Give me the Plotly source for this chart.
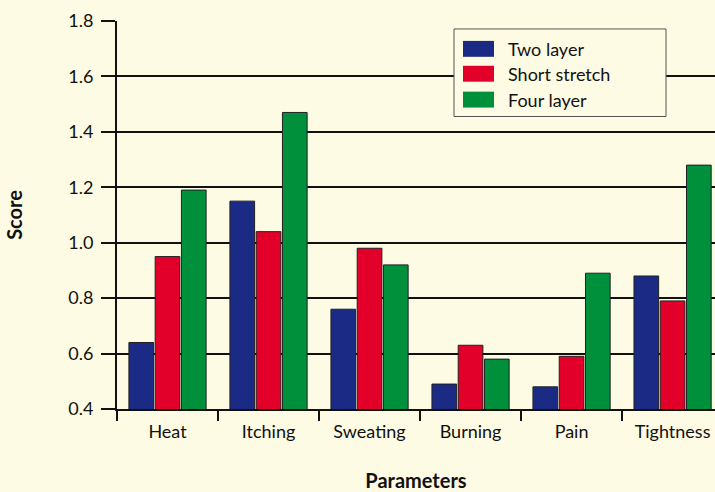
import plotly.graph_objects as go

categories = ["Heat", "Itching", "Sweating", "Burning", "Pain", "Tightness"]
two_layer = [0.64, 1.15, 0.76, 0.49, 0.48, 0.88]
short_stretch = [0.95, 1.04, 0.98, 0.63, 0.59, 0.79]
four_layer = [1.19, 1.47, 0.92, 0.58, 0.89, 1.28]
y_ticks = [0.4, 0.6, 0.8, 1.0, 1.2, 1.4, 1.6, 1.8]

series = [("Two layer", two_layer, "#1b2a84"),
          ("Short stretch", short_stretch, "#e2002a"),
          ("Four layer", four_layer, "#00903c")]

BG = "#fdfbe3"
FONT = "Lato, 'Open Sans', sans-serif"

# plot area in pixels (for placing the hand-drawn legend)
L, R, T, B = 117, 715, 21, 411
def px(x):
    return (x - L) / (R - L)
def py(y):
    return (B - y) / (B - T)

fig = go.Figure()
for name, vals, col in series:
    fig.add_trace(go.Bar(
        x=categories, y=vals, name=name, marker_color=col,
        marker_line=dict(color="#222222", width=1),
    ))

shapes = [dict(type="rect", xref="paper", yref="paper",
               x0=px(454), x1=px(666), y0=py(117), y1=py(29),
               fillcolor=BG, line=dict(color="#555555", width=1), layer="above")]
annotations = []
row_tops = [41, 66, 92]
for (name, vals, col), top in zip(series, row_tops):
    shapes.append(dict(type="rect", xref="paper", yref="paper",
                       x0=px(463), x1=px(494), y0=py(top + 16), y1=py(top),
                       fillcolor=col, line=dict(width=0), layer="above"))
    annotations.append(dict(xref="paper", yref="paper", x=px(506), y=py(top + 8),
                            text=name, showarrow=False, xanchor="left", yanchor="middle",
                            font=dict(size=18, color="#111111")))

fig.update_layout(
    width=715, height=492,
    margin=dict(l=L, r=0, t=T, b=492 - B),
    paper_bgcolor=BG, plot_bgcolor=BG,
    barmode="group", bargap=0.22, bargroupgap=0.06,
    font=dict(family=FONT, size=18, color="#111111"),
    showlegend=False,
    shapes=shapes, annotations=annotations,
    xaxis=dict(
        range=[-0.5, 5.42], tickson="boundaries", ticks="outside",
        ticklen=10, tickwidth=2, tickcolor="#111111",
        ticklabelstandoff=5,
        showline=True, linecolor="#111111", linewidth=2,
        showgrid=False,
        title=dict(text="<b>Parameters</b>", font=dict(size=20), standoff=36),
    ),
    yaxis=dict(
        range=[0.4, 1.8], tickvals=y_ticks,
        ticktext=[f"{v:.1f}" for v in y_ticks],
        ticks="outside", ticklen=14, tickwidth=2, tickcolor="#111111",
        ticklabelstandoff=4,
        showline=True, linecolor="#111111", linewidth=2,
        showgrid=True, gridcolor="#111111", gridwidth=2,
        zeroline=False,
        title=dict(text="<b>Score</b>", font=dict(size=20), standoff=40),
    ),
)

fig.write_html("out.html", config={"displayModeBar": False},
               post_script="document.body.style.margin='0';")
